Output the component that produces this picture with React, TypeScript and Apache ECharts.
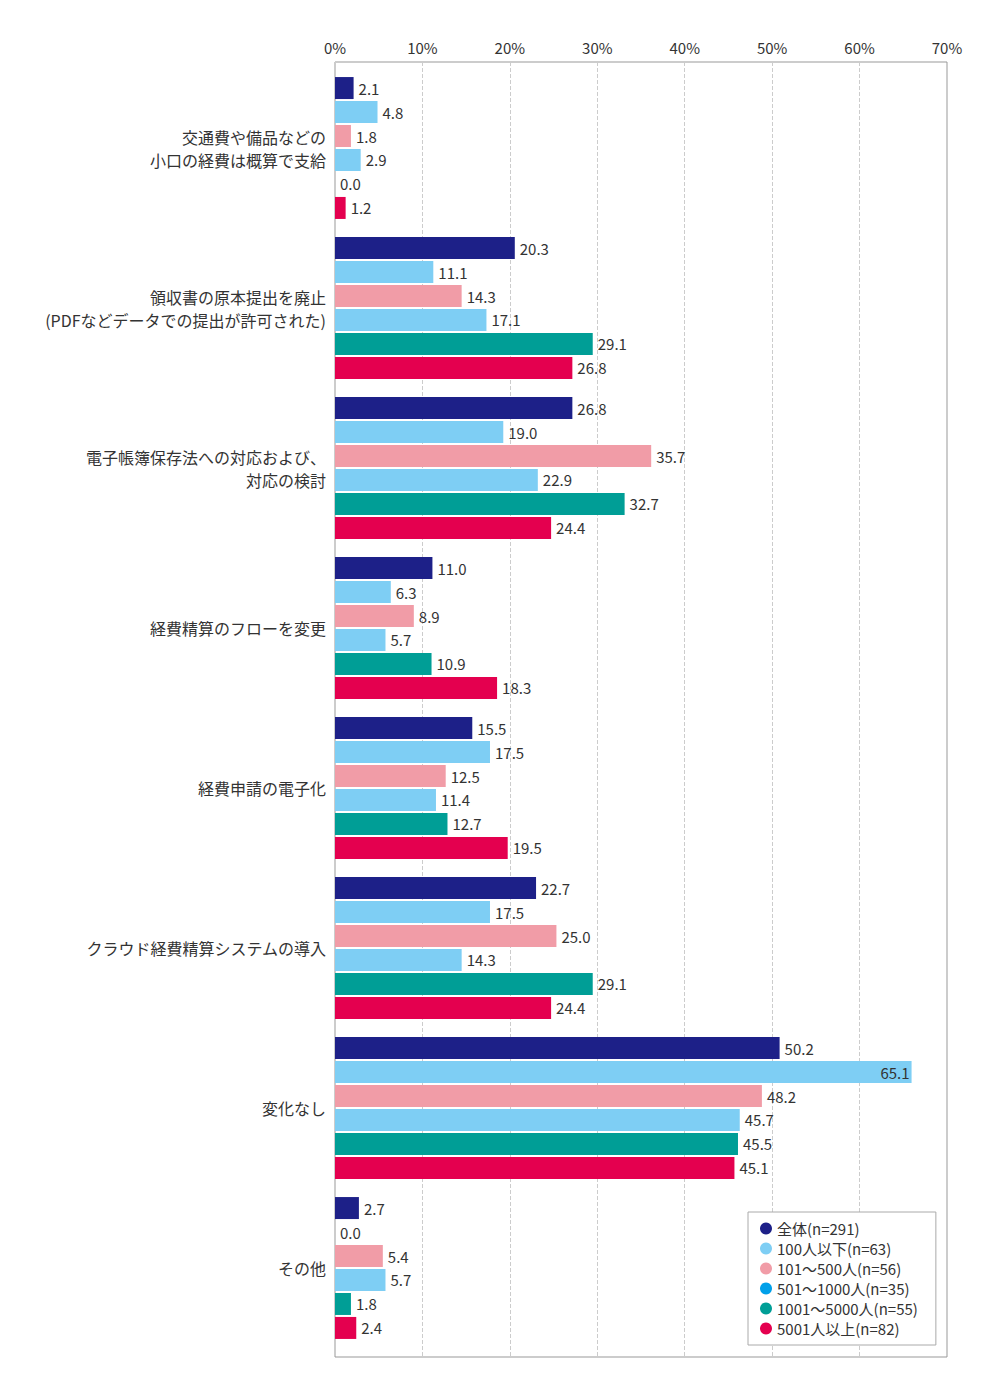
import React, { useEffect, useRef } from "react";
import * as echarts from "echarts";

const categories = [
  "交通費や備品などの\n小口の経費は概算で支給",
  "領収書の原本提出を廃止\n(PDFなどデータでの提出が許可された)",
  "電子帳簿保存法への対応および、\n対応の検討",
  "経費精算のフローを変更",
  "経費申請の電子化",
  "クラウド経費精算システムの導入",
  "変化なし",
  "その他",
];

const seriesNames = [
  "全体(n=291)",
  "100人以下(n=63)",
  "101～500人(n=56)",
  "501～1000人(n=35)",
  "1001～5000人(n=55)",
  "5001人以上(n=82)",
];

const valsAll = [2.1, 20.3, 26.8, 11.0, 15.5, 22.7, 50.2, 2.7];
const valsU100 = [4.8, 11.1, 19.0, 6.3, 17.5, 17.5, 65.1, 0.0];
const vals101 = [1.8, 14.3, 35.7, 8.9, 12.5, 25.0, 48.2, 5.4];
const vals501 = [2.9, 17.1, 22.9, 5.7, 11.4, 14.3, 45.7, 5.7];
const vals1001 = [0.0, 29.1, 32.7, 10.9, 12.7, 29.1, 45.5, 1.8];
const vals5001 = [1.2, 26.8, 24.4, 18.3, 19.5, 24.4, 45.1, 2.4];

const xTicks = ["0%", "10%", "20%", "30%", "40%", "50%", "60%", "70%"];

const barColors = ["#1d2088", "#7ecef4", "#f19ca7", "#7ecef4", "#009e96", "#e4004f"];
const legendColors = ["#1d2088", "#7ecef4", "#f19ca7", "#00a0e9", "#009e96", "#e4004f"];

const FONT = "'Noto Sans CJK JP', 'Noto Sans', sans-serif";

export default function App() {
  const ref = useRef<HTMLDivElement>(null);
  useEffect(() => {
    if (!ref.current) return;
    const chart = echarts.init(ref.current, undefined, { renderer: "svg" });
    const allVals = [valsAll, valsU100, vals101, vals501, vals1001, vals5001];
    const option: any = {
      animation: false,
      backgroundColor: "#fff",
      textStyle: { fontFamily: FONT },
      grid: [
        {
          left: 335,
          right: 53,
          top: 62,
          bottom: 43,
          show: true,
          borderColor: "#999",
          borderWidth: 1,
          backgroundColor: "transparent",
        },
        {
          left: 335,
          right: 53,
          top: 68,
          height: 1280,
        },
      ],
      legend: {
        orient: "vertical",
        left: 748,
        top: 1212,
        padding: [9, 18, 9, 12],
        itemWidth: 12,
        itemHeight: 12,
        itemGap: 5,
        icon: "circle",
        borderColor: "#aaa",
        borderWidth: 1,
        backgroundColor: "#fff",
        textStyle: { fontSize: 15, color: "#333", fontFamily: FONT },
        data: seriesNames.map((n, i) => ({ name: n, itemStyle: { color: legendColors[i] } })),
      },
      xAxis: [
        {
          type: "value",
          gridIndex: 0,
          position: "top",
          min: 0,
          max: 70,
          interval: 10,
          axisLine: { show: false },
          axisTick: { show: false },
          axisLabel: {
            fontSize: 15,
            color: "#333",
            margin: 7,
            fontFamily: FONT,
            formatter: (v: number) => xTicks[Math.round(v / 10)] ?? "",
          },
          splitLine: { show: true, lineStyle: { color: "#ccc", type: "dashed", width: 1 } },
        },
        {
          type: "value",
          gridIndex: 1,
          min: 0,
          max: 69.1,
          show: false,
          splitLine: { show: false },
        },
      ],
      yAxis: [
        {
          type: "category",
          gridIndex: 0,
          data: categories,
          show: false,
        },
        {
          type: "category",
          gridIndex: 1,
          inverse: true,
          data: categories,
          axisLine: { show: false },
          axisTick: { show: false },
          splitLine: { show: false },
          axisLabel: {
            fontSize: 16,
            color: "#333",
            margin: 9,
            lineHeight: 23,
            fontFamily: FONT,
            align: "right",
          },
        },
      ],
      series: seriesNames.map((name, i) => ({
        name,
        type: "bar",
        xAxisIndex: 1,
        yAxisIndex: 1,
        barWidth: 22,
        barGap: "9%",
        itemStyle: { color: barColors[i] },
        label: {
          show: true,
          position: "right",
          distance: 5,
          fontSize: 15,
          color: "#333",
          fontFamily: FONT,
          formatter: (p: any) => Number(p.value).toFixed(1),
        },
        data: allVals[i].map((v) =>
          v > 60 ? { value: v, label: { position: "insideRight", distance: 2 } } : v
        ),
      })),
    };
    chart.setOption(option);
    return () => chart.dispose();
  }, []);
  return (
    <div
      ref={ref}
      style={{ position: "absolute", left: 0, top: 0, width: 1000, height: 1400 }}
    />
  );
}
